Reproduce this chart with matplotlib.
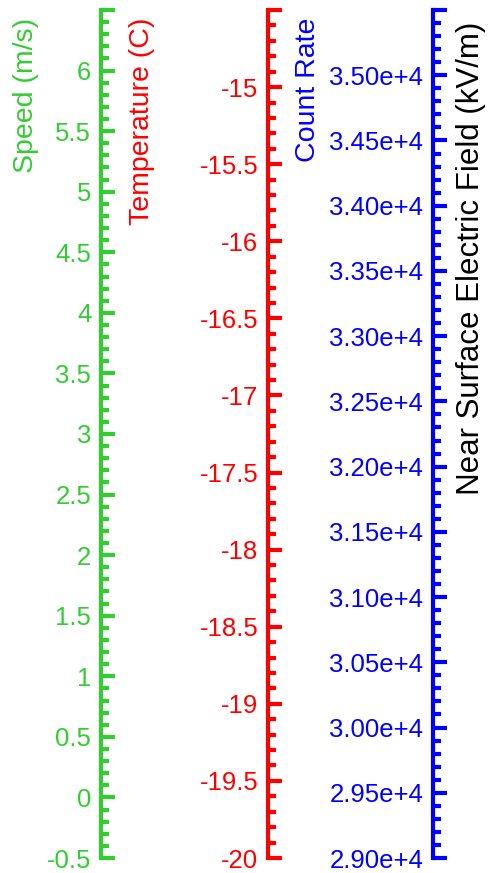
import matplotlib
matplotlib.use("Agg")
import matplotlib.pyplot as plt
from matplotlib.ticker import MultipleLocator

plt.rcParams['font.family'] = ['Liberation Sans', 'DejaVu Sans']

# axis ranges and tick labels
speed_lim = (-0.5, 6.5)
speed_ticks = [-0.5, 0, 0.5, 1, 1.5, 2, 2.5, 3, 3.5, 4, 4.5, 5, 5.5, 6]
speed_labels = ['-0.5', '0', '0.5', '1', '1.5', '2', '2.5', '3', '3.5', '4', '4.5', '5', '5.5', '6']

temp_lim = (-20, -14.5)
temp_ticks = [-20, -19.5, -19, -18.5, -18, -17.5, -17, -16.5, -16, -15.5, -15]
temp_labels = ['-20', '-19.5', '-19', '-18.5', '-18', '-17.5', '-17', '-16.5', '-16', '-15.5', '-15']

field_lim = (29000, 35500)
field_ticks = [29000, 29500, 30000, 30500, 31000, 31500, 32000, 32500, 33000, 33500, 34000, 34500, 35000]
field_labels = ['2.90e+4', '2.95e+4', '3.00e+4', '3.05e+4', '3.10e+4', '3.15e+4', '3.20e+4',
                '3.25e+4', '3.30e+4', '3.35e+4', '3.40e+4', '3.45e+4', '3.50e+4']

W, H = 491, 873
fig = plt.figure(figsize=(W / 100, H / 100), dpi=100)

bottom = 1 - 858 / H
top = 1 - 10 / H


def make_axis(xpix, lim, ticks, labels, minor, color):
    ax = fig.add_axes([xpix / W, bottom, 0.001, top - bottom])
    ax.patch.set_visible(False)
    for s in ['top', 'right', 'bottom']:
        ax.spines[s].set_visible(False)
    ax.spines['left'].set_color(color)
    ax.spines['left'].set_linewidth(3)
    ax.set_xticks([])
    ax.set_ylim(*lim)
    ax.set_yticks(ticks + [lim[1]], labels + [''])
    ax.yaxis.set_minor_locator(MultipleLocator(minor))
    ax.tick_params(axis='y', which='major', direction='in', length=10, width=3,
                   color=color, labelcolor=color, labelsize=18.5, pad=7)
    ax.tick_params(axis='y', which='minor', direction='in', length=6, width=3, color=color)
    return ax


green = '#33cc33'
make_axis(101, speed_lim, speed_ticks, speed_labels, 0.1, green)
make_axis(268, temp_lim, temp_ticks, temp_labels, 0.1, 'red')
make_axis(433, field_lim, field_ticks, field_labels, 100, 'blue')

ytop = 1 - 18 / H
fig.text(26 / W, ytop, 'Speed (m/s)', rotation=90, ha='center', va='top', color=green, fontsize=20.5)
fig.text(142 / W, ytop, 'Temperature (C)', rotation=90, ha='center', va='top', color='red', fontsize=20.5)
fig.text(308 / W, ytop, 'Count Rate', rotation=90, ha='center', va='top', color='blue', fontsize=20.5)
fig.text(471 / W, 1 - 22 / H, 'Near Surface Electric Field (kV/m)', rotation=90, ha='center', va='top',
         color='black', fontsize=22.5)

fig.savefig('out.png', dpi=100)
